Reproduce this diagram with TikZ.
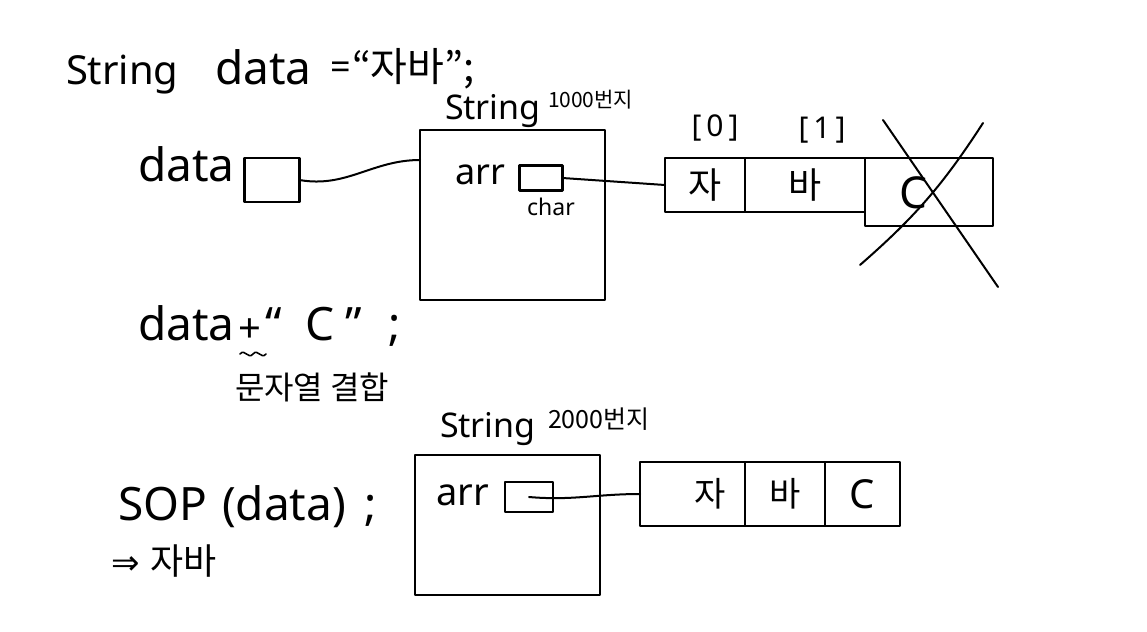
\documentclass[tikz,border=0pt]{standalone}
\usepackage{fontspec}
\setmainfont{Noto Sans}
\newfontfamily\kr{Noto Sans CJK KR}
\newfontfamily\dv{DejaVu Sans}
\begin{document}
\begin{tikzpicture}[x=1pt,y=-1pt,line width=2pt,line cap=round,line join=round,
  box/.style={draw,line width=2.2pt,inner sep=0pt,outer sep=0pt},
  cell/.style={draw,line width=2.2pt,inner sep=0pt,outer sep=0pt,anchor=north west},
  txt/.style={inner sep=0pt,outer sep=0pt,anchor=base west},
  ctxt/.style={inner sep=0pt,outer sep=0pt}]
\useasboundingbox[fill=white] (0,0) rectangle (1147,631);

% first statement
\node[txt,font=\fontsize{40}{40}\selectfont] (s1) at (66,85) {String};
\node[txt,font=\fontsize{46}{46}\selectfont] (s1d) at (215,85) {data};
\node[txt,font=\fontsize{36}{36}\selectfont] (s1e) at (330,80) {=};
\node[txt,font=\kr\fontsize{40}{40}\selectfont] (s1v) at (352,82) {“자바”;};

% data variable
\node[txt,font=\fontsize{46}{46}\selectfont] (dlab) at (138,182) {data};
\node[box,minimum width=55pt,minimum height=44pt] (dbox) at (272,180) {};

% String object 1000
\node[txt,font=\fontsize{34}{34}\selectfont] (o1lab) at (445,120) {String};
\node[txt,font=\kr\fontsize{21}{21}\selectfont] (o1adr) at (548,108) {1000번지};
\node[box,anchor=north west,minimum width=185pt,minimum height=170pt] (obj1) at (420,130) {};
\coordinate (in1) at (420,160);
\node[txt,font=\fontsize{36}{36}\selectfont] (arr1) at (455,185) {arr};
\node[box,minimum width=43pt,minimum height=25pt] (abox1) at (541,178) {};
\node[ctxt,font=\fontsize{23}{23}\selectfont] (char1) at (551,207) {char};

% array 1
\node[ctxt,font=\fontsize{30}{30}\selectfont] (i0) at (715,128) {[\,0\,]};
\node[ctxt,font=\fontsize{30}{30}\selectfont] (i1) at (822,130) {[\,1\,]};
\node[cell,minimum width=80pt,minimum height=54pt,font=\kr\fontsize{36}{36}\selectfont] (c10) at (665,158) {자};
\node[cell,minimum width=120pt,minimum height=54pt,font=\kr\fontsize{36}{36}\selectfont] (c11) at (c10.north east) {바};
\node[cell,minimum width=128pt,minimum height=68pt] (c12) at (c11.north east) {};
\node[ctxt,font=\fontsize{44}{44}\selectfont] (c12t) at (913,193) {C};
% cross
\coordinate (xa1) at (883,120);
\coordinate (xa2) at (998,287);
\coordinate (xb1) at (983,123);
\coordinate (xb2) at (860,265);
\draw (xa1) -- (xa2);
\draw (xb1) to[bend left=8] (xb2);

% connectors 1
\draw (dbox.east) to[out=-10,in=180] (in1);
\draw (abox1.east) -- (c10.west);

% second statement
\node[txt,font=\fontsize{46}{46}\selectfont] (d2) at (138,340) {data};
\node[txt,font=\fontsize{40}{40}\selectfont] (plus) at (238,342) {+};
\node[txt,font=\fontsize{46}{46}\selectfont] (d2q1) at (265,340) {“};
\node[txt,font=\fontsize{46}{46}\selectfont] (d2c) at (305,340) {C};
\node[txt,font=\fontsize{46}{46}\selectfont] (d2q2) at (345,340) {”};
\node[txt,font=\fontsize{46}{46}\selectfont] (d2s) at (388,340) {;};
\draw[line width=1.6pt] (240,354) .. controls (245,348) and (248,360) .. (253,354) .. controls (258,348) and (261,360) .. (266,354);
\node[txt,font=\kr\fontsize{32}{32}\selectfont] (concat) at (235,399) {문자열 결합};

% String object 2000
\node[txt,font=\fontsize{34}{34}\selectfont] (o2lab) at (440,437) {String};
\node[txt,font=\kr\fontsize{25}{25}\selectfont] (o2adr) at (548,428) {2000번지};
\node[box,anchor=north west,minimum width=185pt,minimum height=140pt] (obj2) at (415,455) {};
\node[txt,font=\fontsize{38}{38}\selectfont] (arr2) at (436,505) {arr};
\node[box,minimum width=48pt,minimum height=30pt] (abox2) at (529,497) {};

% array 2
\node[cell,minimum width=105pt,minimum height=64pt,font=\kr\fontsize{34}{34}\selectfont] (c20) at (640,462) {\hspace*{35pt}자};
\node[cell,minimum width=80pt,minimum height=64pt,font=\kr\fontsize{34}{34}\selectfont] (c21) at (c20.north east) {바};
\node[cell,minimum width=75pt,minimum height=64pt,font=\fontsize{40}{40}\selectfont] (c22) at (c21.north east) {C};

\draw (abox2.center) to[out=-5,in=180] (c20.west);

% print
\node[txt,font=\fontsize{46}{46}\selectfont] (sop) at (118,520) {SOP};
\node[txt,font=\fontsize{46}{46}\selectfont] (sopa) at (222,520) {(data)};
\node[txt,font=\fontsize{46}{46}\selectfont] (sops) at (364,520) {;};
\node[txt,font=\dv\fontsize{34}{34}\selectfont] (arrow) at (111,574) {⇒};
\node[txt,font=\kr\fontsize{36}{36}\selectfont] (res) at (150,574) {자바};
\end{tikzpicture}
\end{document}
